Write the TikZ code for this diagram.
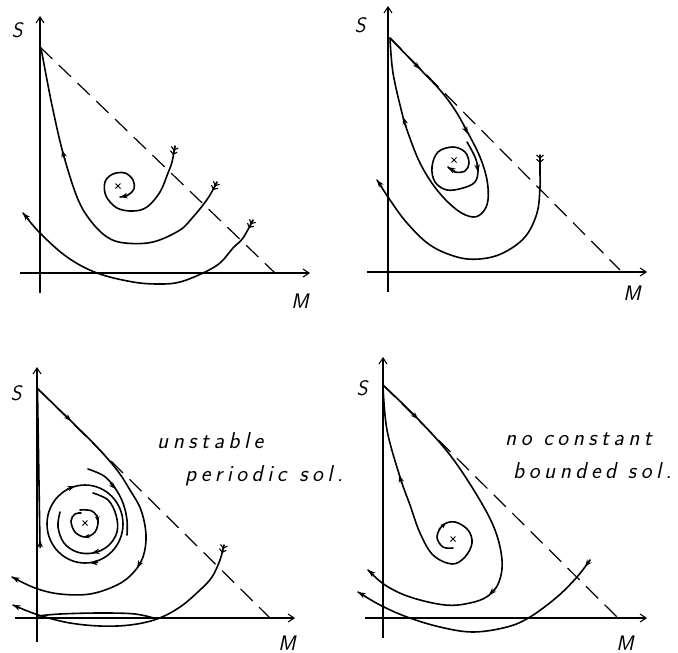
\documentclass[tikz,border=0pt]{standalone}
\usepackage{fontspec}
\usetikzlibrary{arrows.meta}
\def\lspcword#1{\lspcA#1\relax}
\def\lspcA#1{\ifx#1\relax\else#1\kern4.5pt\relax\expandafter\lspcA\fi}
\tikzset{
  traj/.style={line width=1.6pt, line cap=round, line join=round},
  axis/.style={line width=1.2pt, -{Straight Barb[length=6pt,width=8pt,line width=1.1pt]}},
  dashln/.style={line width=1.2pt, dash pattern=on 17pt off 9pt},
  ah/.style={line width=1.4pt, -{Stealth[length=7.5pt,width=5.5pt]}},
  sah/.style={line width=1.2pt, -{Stealth[length=5.5pt,width=4.5pt]}},
  dah/.style={line width=1.2pt, -{Straight Barb[length=3pt,width=7pt,line width=1.1pt] Straight Barb[length=3pt,width=7pt,line width=1.1pt]}},
  lbl/.style={font=\sffamily\itshape\fontsize{21}{25}\selectfont, inner sep=0pt},
  txt/.style={font=\sffamily\itshape\fontsize{23}{27}\selectfont, anchor=base west, inner sep=0pt},
  xmk/.pic={\draw[line width=0.9pt] (-2.5,-2.5)--(2.5,2.5) (-2.5,2.5)--(2.5,-2.5);}
}
\begin{document}
\begin{tikzpicture}[x=1pt,y=-1pt]
\useasboundingbox (0,0) rectangle (678,653);

% ---------------- Panel 1 ----------------
\draw[axis] (40,293) -- (40,16);
\draw[axis] (20,273) -- (310,273);
\draw[dashln] (40,47) -- (275,273);
\node[lbl] (S1) at (17,30) {S};
\node[lbl] (M1) at (300,301) {M};
\draw[traj] plot[smooth,tension=0.6] coordinates {(175,146) (172,162) (168,173) (160,192) (147,207) (133,211) (117,208) (106,196) (105,182) (113,174) (125,173) (133,180) (134,189) (128,195) (120,197)};
\draw[dah] (175,146) -- (173,155);
\draw[ah] (128,195.5) -- (120,197);
\draw[traj] plot[smooth,tension=0.6] coordinates {(217,182) (210,195) (203,205) (193,217) (180,230) (153,242) (125,243) (107,237) (90,220) (77,197) (63,153) (53,110) (47,80) (41,48)};
\draw[dah] (217,182) -- (213,190);
\draw[ah] (65,160) -- (62,150);
\draw[traj] plot[smooth,tension=0.6] coordinates {(253,220) (243,238) (233,248) (220,263) (203,273) (180,282) (160,284) (133,282) (97,273) (67,257) (40,233) (23,213)};
\draw[dah] (253,220) -- (249,228);
\draw[ah] (29,220) -- (23,213);
\pic at (118,186) {xmk};

% ---------------- Panel 2 ----------------
\draw[axis] (388,292) -- (388,6);
\draw[axis] (367,272) -- (647,272);
\draw[dashln] (390,38) -- (620,270);
\node[lbl] (S2) at (360,25) {S};
\node[lbl] (M2) at (632,293) {M};
\draw[traj] plot[smooth,tension=0.6] coordinates {(390,38) (418,67) (440,90) (455,110) (468,133) (480,157) (487,180) (488,200) (483,212) (473,217) (457,210) (437,190) (420,163) (407,130) (402,113) (393,73) (390,38)};
\draw[ah] (412,61) -- (420,69);
\draw[ah] (464,126) -- (468,134);
\draw[ah] (406,126) -- (403,117);
\draw[traj] plot[smooth,tension=0.6] coordinates {(467,142) (475,157) (478,170) (475,182) (463,188) (447,190) (435,182) (432,167) (438,152) (453,147) (465,152) (469,163) (465,171) (455,172) (448,167)};
\draw[ah] (477,164) -- (478,172);
\draw[ah] (455,171.5) -- (448,167);
\draw[traj] plot[smooth,tension=0.6] coordinates {(540,155) (540,173) (540,187) (537,213) (525,237) (503,253) (480,259) (457,257) (430,245) (407,223) (390,200) (377,180)};
\draw[dah] (540,155) -- (540,163);
\draw[ah] (382,187) -- (377,180);
\pic at (454,160) {xmk};

% ---------------- Panel 3 ----------------
\draw[axis] (37,642) -- (37,367);
\draw[axis] (15,618) -- (295,618);
\draw[dashln] (37,388) -- (270,618);
\node[lbl] (S3) at (16,393) {S};
\node[lbl] (M3) at (287,643) {M};
\draw[traj] plot[smooth,tension=0.6] coordinates {(37,388) (75,425) (97,447) (117,470) (130,490) (141,510) (146,535) (143,557) (133,573) (117,585) (90,594) (60,594) (35,588) (12,577)};
\draw[ah] (64,414) -- (71,421);
\draw[ah] (141,561) -- (137,568);
\draw[ah] (19,580.5) -- (12,577);
\draw[traj] (40,545) -- (37.5,390);
\draw[ah] (40.2,548) -- (40,540);
\draw[traj] plot[smooth,tension=0.6] coordinates {(88,469) (104,476) (115,488) (123,503) (127,520) (127,535)};
\draw[ah] (110,483) -- (116,489);
\draw[traj] (85,524) ellipse [x radius=38, y radius=39];
\draw[ah] (67,489) -- (75,486);
\draw[ah] (98,562.5) -- (90,563);
\draw[traj] plot[smooth,tension=0.6] coordinates {(93,493) (108,500) (116,515) (117,532) (108,546) (93,553) (77,552) (64,543) (58,527) (60,512)};
\draw[ah] (100,551) -- (92,553);
\draw[traj] plot[smooth,tension=0.6] coordinates {(80,510) (92,511) (98,520) (95,532) (85,537) (75,532) (71,521) (75,514) (81,513)};
\draw[sah] (97,515) -- (98,522);
\draw[sah] (90,536) -- (84,537);
\pic at (85,523) {xmk};
\draw[traj] plot[smooth,tension=0.6] coordinates {(224,545) (220,560) (212,577) (200,590) (180,607) (157,619) (130,625) (100,626) (70,623) (45,617) (30,612) (13,605)};
\draw[dah] (224,545) -- (222,553);
\draw[ah] (20,608) -- (13,605);
\draw[traj] plot[smooth,tension=0.6] coordinates {(38,616) (60,614) (100,613) (135,614) (157,619)};
\node[txt] (T1) at (157,448) {\lspcword{unstable}};
\node[txt] (T2) at (185,481) {\lspcword{periodic} \hspace{1pt}\lspcword{sol.}};

% ---------------- Panel 4 ----------------
\draw[axis] (383,638) -- (383,357);
\draw[axis] (365,618) -- (647,618);
\draw[dashln] (383,385) -- (618,618);
\node[lbl] (S4) at (362,388) {S};
\node[lbl] (M4) at (625,643) {M};
\draw[traj] plot[smooth,tension=0.6] coordinates {(383,385) (417,418) (450,455) (478,497) (495,530) (502,560) (499,582) (488,596) (470,603) (445,605) (410,597) (385,585) (368,570)};
\draw[ah] (411,412) -- (418,419);
\draw[ah] (496,588) -- (489,595);
\draw[ah] (374,575) -- (368,570);
\draw[traj] plot[smooth,tension=0.6] coordinates {(383,386) (387,430) (400,477) (410,505) (420,533) (433,555) (452,564) (465,557) (472,543) (468,530) (455,522) (443,525) (437,537) (443,547) (453,548)};
\draw[ah] (402,484) -- (399,475);
\draw[sah] (439,529) -- (446,523);
\pic at (453,539) {xmk};
\draw[traj] plot[smooth,tension=0.6] coordinates {(590,560) (577,577) (557,597) (530,617) (507,627) (473,632) (440,627) (407,617) (380,605) (358,592)};
\draw[ah] (590,560) -- (585,567);
\draw[ah] (365,596) -- (358,592);
\node[txt] (T3) at (505,445) {\lspcword{no} \lspcword{constant}};
\node[txt] (T4) at (513,478) {\lspcword{bounded} \lspcword{sol.}};
\end{tikzpicture}
\end{document}
